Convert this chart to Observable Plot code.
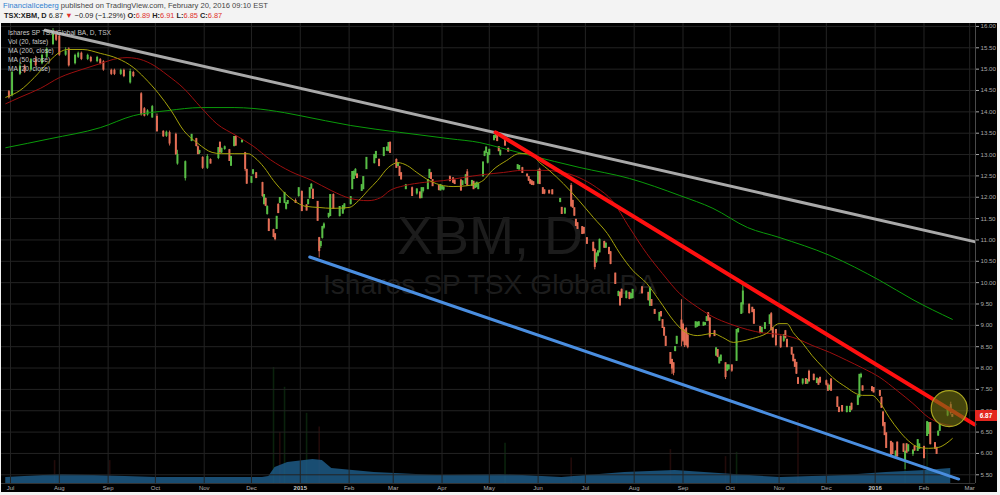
<!DOCTYPE html>
<html><head><meta charset="utf-8">
<script src="https://cdn.jsdelivr.net/npm/d3@7"></script>
<script src="https://cdn.jsdelivr.net/npm/@observablehq/plot@0.6"></script>
<style>
html,body{margin:0;padding:0;background:#f3f3f3;width:1000px;height:495px;overflow:hidden;font-family:"Liberation Sans",Arial,sans-serif;}
#hdr1{position:absolute;left:3px;top:1px;font-size:7.6px;color:#444;white-space:nowrap}
#hdr2{position:absolute;left:4px;top:11px;font-size:7.4px;color:#222;white-space:nowrap}
#panel{position:absolute;left:1px;top:23px;width:996px;height:469px;background:#000;overflow:hidden}
#panel svg{position:absolute;left:0;top:0}
.leg{position:absolute;left:7px;font-size:6.6px;color:#c8c8c8;white-space:nowrap}
#last{position:absolute;left:975px;width:22px;height:11px;background:#e3261f;color:#fff;font-size:6.4px;font-weight:bold;text-align:center;line-height:11px}
.red{color:#e0302a}
</style></head>
<body>
<div id="hdr1"></div>
<div id="hdr2"></div>
<div id="panel"></div>
<script>
// ---------- data ----------
const symbol = "XBM, D";
const fullName = "Ishares SP TSX Global BA";
const legendRows = ["Ishares SP TSX Global BA, D, TSX", "Vol (20, false)", "MA (200, close)", "MA (50, close)", "MA (20, close)"];
const author = "FinancialIceberg";
const published = " published on TradingView.com, February 20, 2016 09:10 EST";
const ticker = "TSX:XBM, D";

// date, open, high, low, close
const ohlc = [
["2014-06-30",14.45,14.5,14.3,14.35],["2014-07-02",14.4,14.95,14.35,14.9],["2014-07-07",14.9,15.15,14.85,15.05],
["2014-07-10",15.05,15.1,14.9,14.95],["2014-07-14",15.0,15.25,14.95,15.2],["2014-07-17",15.2,15.3,15.05,15.1],
["2014-07-21",15.15,15.35,15.1,15.3],["2014-07-24",15.3,15.5,15.25,15.45],["2014-07-28",15.6,15.95,15.55,15.85],
["2014-07-30",15.85,15.9,15.65,15.7],["2014-08-01",15.75,15.8,15.3,15.35],["2014-08-05",15.35,15.5,15.3,15.4],
["2014-08-07",15.45,15.5,15.05,15.1],["2014-08-11",15.15,15.35,15.1,15.3],["2014-08-13",15.3,15.4,15.25,15.35],
["2014-08-15",15.35,15.4,15.2,15.25],["2014-08-19",15.25,15.35,15.2,15.3],["2014-08-21",15.25,15.3,15.15,15.2],
["2014-08-25",15.2,15.3,15.15,15.25],["2014-08-27",15.2,15.25,15.1,15.15],["2014-08-29",15.15,15.2,14.95,15.0],
["2014-09-03",14.95,15.0,14.85,14.9],["2014-09-05",14.95,15.0,14.85,14.9],["2014-09-09",14.9,15.0,14.85,14.95],
["2014-09-11",14.95,15.0,14.8,14.85],["2014-09-15",14.7,15.0,14.65,14.92],["2014-09-17",14.9,14.95,14.8,14.85],
["2014-09-22",14.4,14.45,13.9,13.95],["2014-09-24",14.05,14.1,13.88,13.92],["2014-09-26",13.95,14.05,13.9,14.0],
["2014-09-29",13.88,14.15,13.85,14.1],["2014-10-02",13.87,13.95,13.52,13.56],["2014-10-06",13.52,13.56,13.4,13.44],
["2014-10-08",13.45,13.55,13.4,13.5],["2014-10-10",13.49,13.55,13.2,13.27],["2014-10-14",13.45,13.5,12.98,13.02],
["2014-10-15",12.8,13.1,12.75,12.98],["2014-10-20",12.46,12.85,12.38,12.81],["2014-10-24",13.33,13.47,13.3,13.45],
["2014-10-27",13.35,13.38,13.18,13.21],["2014-10-28",13.16,13.2,13.0,13.02],["2014-10-29",13.05,13.1,13.0,13.07],
["2014-10-31",12.91,12.95,12.65,12.7],["2014-11-03",12.7,13.0,12.65,12.93],["2014-11-05",12.86,12.9,12.78,12.8],
["2014-11-10",12.93,13.16,12.88,13.14],["2014-11-11",13.26,13.3,13.04,13.06],["2014-11-12",13.06,13.15,13.02,13.12],
["2014-11-14",13.14,13.2,13.1,13.16],["2014-11-17",13.09,13.12,12.84,12.86],["2014-11-18",12.75,12.96,12.72,12.93],
["2014-11-20",13.21,13.42,13.18,13.4],["2014-11-21",13.4,13.44,13.2,13.22],["2014-11-25",13.3,13.35,13.27,13.31],
["2014-11-27",13.02,13.05,12.6,12.67],["2014-11-28",12.63,12.65,12.3,12.33],["2014-12-01",12.35,12.48,12.32,12.46],
["2014-12-02",12.56,12.65,12.52,12.62],["2014-12-04",12.55,12.58,12.44,12.46],["2014-12-08",12.32,12.35,12.0,12.04],
["2014-12-09",11.85,12.06,11.82,12.04],["2014-12-10",11.95,11.98,11.78,11.81],["2014-12-11",11.62,11.8,11.58,11.76],
["2014-12-12",11.46,11.5,11.2,11.22],["2014-12-15",11.22,11.25,11.05,11.08],["2014-12-16",11.12,11.15,10.98,11.03],
["2014-12-17",11.27,11.55,11.25,11.53],["2014-12-18",11.81,11.85,11.62,11.64],["2014-12-19",11.88,11.99,11.85,11.97],
["2014-12-22",11.88,12.1,11.85,12.09],["2014-12-23",11.74,11.87,11.7,11.85],["2014-12-24",11.86,11.92,11.83,11.9],
["2014-12-29",11.9,11.96,11.86,11.88],["2014-12-31",12.04,12.22,12.0,12.2],
["2015-01-02",12.11,12.15,11.66,11.69],["2015-01-05",11.8,11.82,11.68,11.7],["2015-01-06",11.85,11.95,11.82,11.92],
["2015-01-07",11.99,12.22,11.96,12.2],["2015-01-08",12.22,12.32,12.18,12.28],["2015-01-09",12.16,12.2,11.95,11.97],
["2015-01-12",11.88,11.9,11.44,11.46],["2015-01-13",11.03,11.06,10.58,10.75],["2015-01-14",10.87,10.97,10.8,10.94],
["2015-01-15",11.06,11.32,11.02,11.29],["2015-01-16",11.3,11.4,11.25,11.35],["2015-01-19",11.55,11.62,11.5,11.6],
["2015-01-20",11.57,12.06,11.55,12.04],["2015-01-22",12.04,12.08,11.72,11.74],["2015-01-26",11.57,11.78,11.54,11.76],
["2015-01-28",11.63,11.8,11.6,11.78],["2015-01-29",11.75,11.85,11.7,11.82],["2015-02-02",11.85,12.01,11.82,11.99],
["2015-02-03",12.2,12.6,12.18,12.58],["2015-02-04",12.44,12.62,12.42,12.58],["2015-02-05",12.52,12.67,12.5,12.63],
["2015-02-06",12.52,12.55,12.44,12.46],["2015-02-09",12.16,12.3,12.14,12.27],["2015-02-10",12.2,12.48,12.18,12.46],
["2015-02-12",12.67,12.93,12.65,12.91],["2015-02-17",12.81,13.0,12.78,12.98],["2015-02-18",12.93,13.07,12.9,13.05],
["2015-02-20",12.86,12.9,12.72,12.74],["2015-02-23",12.98,13.16,12.95,13.14],["2015-02-25",13.1,13.18,13.08,13.15],
["2015-02-26",13.09,13.28,13.07,13.26],["2015-02-27",13.26,13.3,13.03,13.05],["2015-03-03",12.86,12.9,12.68,12.7],
["2015-03-04",12.74,12.8,12.72,12.78],["2015-03-05",12.7,12.72,12.5,12.51],["2015-03-06",12.55,12.58,12.4,12.43],
["2015-03-09",12.2,12.3,12.18,12.27],["2015-03-13",12.2,12.24,12.02,12.04],["2015-03-16",12.1,12.2,12.05,12.17],
["2015-03-18",12.1,12.12,11.96,11.99],["2015-03-19",11.99,12.22,11.97,12.2],["2015-03-20",12.16,12.22,12.1,12.2],
["2015-03-23",12.2,12.4,12.18,12.39],["2015-03-24",12.46,12.65,12.44,12.63],["2015-03-25",12.55,12.58,12.42,12.44],
["2015-03-26",12.39,12.4,12.26,12.27],["2015-03-30",12.25,12.27,12.15,12.18],["2015-03-31",12.17,12.3,12.15,12.27],
["2015-04-01",12.2,12.26,12.16,12.24],["2015-04-02",12.19,12.24,12.15,12.22],["2015-04-06",12.46,12.5,12.36,12.39],
["2015-04-08",12.43,12.46,12.33,12.35],["2015-04-09",12.38,12.4,12.3,12.32],["2015-04-13",12.38,12.42,12.14,12.17],
["2015-04-14",12.3,12.38,12.28,12.36],["2015-04-16",12.33,12.53,12.3,12.5],["2015-04-17",12.57,12.65,12.26,12.28],
["2015-04-20",12.28,12.39,12.25,12.37],["2015-04-21",12.35,12.37,12.18,12.2],["2015-04-22",12.23,12.33,12.2,12.3],
["2015-04-23",12.25,12.34,12.22,12.33],["2015-04-24",12.2,12.33,12.18,12.3],["2015-04-27",12.5,12.83,12.48,12.8],
["2015-04-28",12.98,13.08,12.95,13.05],["2015-04-29",13.05,13.18,13.02,13.15],["2015-04-30",12.82,13.05,12.78,13.02],
["2015-05-01",13.0,13.12,12.98,13.1],["2015-05-04",13.35,13.45,13.32,13.42],["2015-05-05",13.4,13.53,13.38,13.5],
["2015-05-06",13.5,13.52,13.3,13.33],["2015-05-07",13.16,13.18,13.07,13.09],["2015-05-08",13.0,13.1,12.96,13.08],
["2015-05-11",13.37,13.4,13.2,13.22],["2015-05-13",13.12,13.15,13.06,13.08],["2015-05-19",12.67,12.76,12.65,12.74],
["2015-05-20",12.66,12.74,12.64,12.72],["2015-05-22",12.67,12.7,12.56,12.58],["2015-05-25",12.52,12.54,12.48,12.5],
["2015-05-26",12.46,12.48,12.37,12.4],["2015-05-27",12.39,12.41,12.3,12.33],["2015-05-28",12.36,12.38,12.28,12.3],
["2015-05-29",12.34,12.36,12.27,12.3],["2015-06-01",12.33,12.65,12.3,12.6],["2015-06-02",12.63,12.68,12.3,12.32],
["2015-06-04",12.2,12.22,12.07,12.09],["2015-06-05",12.15,12.17,12.06,12.1],["2015-06-08",12.14,12.16,12.08,12.1],
["2015-06-10",12.15,12.18,12.06,12.08],["2015-06-15",11.9,11.97,11.87,11.95],["2015-06-16",11.74,11.76,11.6,11.62],
["2015-06-18",11.63,11.75,11.6,11.72],["2015-06-22",12.25,12.32,11.76,11.8],["2015-06-23",11.9,11.93,11.74,11.77],
["2015-06-24",11.73,11.75,11.55,11.58],["2015-06-25",11.46,11.48,11.32,11.34],["2015-06-26",11.38,11.4,11.25,11.27],
["2015-06-29",11.29,11.3,11.13,11.15],["2015-06-30",11.27,11.29,11.14,11.16],["2015-07-02",11.03,11.05,10.9,10.92],
["2015-07-06",10.92,10.95,10.73,10.75],["2015-07-07",10.75,10.8,10.3,10.38],["2015-07-08",10.5,10.7,10.45,10.66],
["2015-07-09",10.64,10.75,10.6,10.72],["2015-07-10",10.72,11.02,10.7,10.99],["2015-07-13",10.94,10.97,10.8,10.83],
["2015-07-14",10.83,10.93,10.8,10.9],["2015-07-16",10.8,10.83,10.66,10.68],["2015-07-17",10.7,10.73,10.42,10.45],
["2015-07-20",10.2,10.22,9.96,9.98],["2015-07-22",9.7,9.8,9.67,9.77],["2015-07-23",9.75,9.78,9.45,9.48],
["2015-07-24",9.82,9.85,9.63,9.66],["2015-07-27",9.65,9.8,9.62,9.78],["2015-07-29",9.75,9.77,9.6,9.63],
["2015-07-30",9.64,9.74,9.62,9.72],["2015-07-31",9.65,9.84,9.62,9.82],["2015-08-06",9.88,9.9,9.74,9.76],
["2015-08-10",9.75,9.77,9.57,9.6],["2015-08-11",9.47,9.88,9.45,9.85],["2015-08-12",9.58,9.6,9.45,9.47],
["2015-08-14",9.35,9.37,9.26,9.28],["2015-08-17",9.12,9.3,9.1,9.28],["2015-08-18",9.3,9.32,9.2,9.22],
["2015-08-19",9.11,9.13,8.93,8.95],["2015-08-20",8.93,8.95,8.74,8.77],["2015-08-21",8.72,8.74,8.51,8.53],
["2015-08-24",8.34,8.36,8.09,8.11],["2015-08-25",8.18,8.2,7.85,8.0],["2015-08-26",8.1,8.12,7.82,7.9],
["2015-08-27",8.41,8.5,8.38,8.48],["2015-08-28",8.58,8.74,8.55,8.72],["2015-08-31",9.1,9.6,8.5,8.93],
["2015-09-01",9.0,9.05,8.6,8.65],["2015-09-02",8.85,8.9,8.48,8.55],["2015-09-03",8.9,8.95,8.5,8.55],
["2015-09-04",8.75,8.8,8.45,8.5],["2015-09-09",8.96,9.08,8.94,9.06],["2015-09-10",8.98,9.07,8.96,9.05],
["2015-09-11",9.0,9.08,8.98,9.06],["2015-09-14",9.0,9.07,8.98,9.05],["2015-09-15",9.02,9.06,8.99,9.04],
["2015-09-16",9.11,9.2,9.09,9.18],["2015-09-17",9.27,9.3,9.1,9.12],["2015-09-18",9.15,9.17,8.7,8.75],
["2015-09-21",8.85,8.88,8.74,8.76],["2015-09-22",8.3,8.47,8.28,8.45],["2015-09-23",8.41,8.43,8.24,8.27],
["2015-09-24",8.12,8.25,8.1,8.23],["2015-09-25",8.18,8.3,8.15,8.28],["2015-09-28",8.1,8.12,7.73,7.8],
["2015-09-29",7.95,8.07,7.92,8.05],["2015-09-30",7.98,8.07,7.96,8.05],["2015-10-02",8.05,8.07,7.9,7.95],
["2015-10-05",8.18,8.9,8.16,8.88],["2015-10-06",8.85,8.92,8.82,8.9],["2015-10-08",9.28,9.53,9.26,9.5],
["2015-10-09",9.5,9.95,9.28,9.78],["2015-10-13",9.47,9.5,9.26,9.3],["2015-10-15",9.4,9.42,9.3,9.32],
["2015-10-16",9.35,9.37,9.02,9.05],["2015-10-20",8.95,8.97,8.8,8.83],["2015-10-21",8.84,8.95,8.82,8.93],
["2015-10-23",8.93,9.06,8.9,9.04],["2015-10-26",9.04,9.24,9.02,9.22],["2015-10-27",9.25,9.3,8.87,8.9],
["2015-10-28",8.92,8.95,8.7,8.73],["2015-10-30",8.88,8.9,8.5,8.55],["2015-11-02",8.72,8.75,8.46,8.5],
["2015-11-04",8.65,8.78,8.6,8.76],["2015-11-05",8.85,8.88,8.68,8.72],["2015-11-06",8.65,8.67,8.48,8.5],
["2015-11-09",8.46,8.48,8.3,8.33],["2015-11-10",8.3,8.32,8.15,8.17],["2015-11-11",8.18,8.2,8.02,8.04],
["2015-11-12",8.11,8.13,7.85,7.88],["2015-11-13",7.75,7.78,7.62,7.64],["2015-11-16",7.65,7.74,7.6,7.72],
["2015-11-18",7.73,7.75,7.62,7.64],["2015-11-19",7.65,7.73,7.62,7.71],["2015-11-20",7.9,7.95,7.67,7.7],
["2015-11-23",7.83,7.86,7.7,7.73],["2015-11-25",7.66,7.76,7.64,7.74],["2015-11-26",7.72,7.74,7.6,7.62],
["2015-11-27",7.76,7.78,7.65,7.67],["2015-12-01",7.68,7.72,7.58,7.62],["2015-12-02",7.58,7.64,7.45,7.48],
["2015-12-03",7.5,7.6,7.47,7.57],["2015-12-04",7.72,7.75,7.45,7.48],["2015-12-08",7.3,7.32,7.08,7.1],
["2015-12-09",7.06,7.08,6.97,6.98],["2015-12-11",7.1,7.12,6.96,7.0],["2015-12-14",6.98,7.1,6.95,7.08],
["2015-12-16",6.98,7.1,6.96,7.08],["2015-12-17",7.15,7.18,7.0,7.04],["2015-12-21",7.15,7.35,7.12,7.33],
["2015-12-22",7.33,7.85,7.3,7.83],["2015-12-23",7.8,7.88,7.75,7.83],["2015-12-24",7.56,7.58,7.46,7.48],
["2015-12-30",7.54,7.56,7.45,7.47],["2015-12-31",7.52,7.54,7.42,7.44],["2016-01-04",7.45,7.47,7.34,7.36],
["2016-01-05",7.29,7.32,7.06,7.08],["2016-01-06",6.95,6.97,6.62,6.66],["2016-01-07",6.7,6.72,6.42,6.44],
["2016-01-08",6.46,6.48,6.12,6.14],["2016-01-11",6.26,6.28,5.93,5.96],["2016-01-12",6.22,6.25,5.97,6.0],
["2016-01-14",5.91,6.06,5.88,6.03],["2016-01-15",6.24,6.27,5.92,5.94],["2016-01-19",6.2,6.22,6.02,6.05],
["2016-01-20",5.85,6.04,5.62,6.03],["2016-01-21",6.2,6.23,6.0,6.03],["2016-01-22",6.06,6.2,6.04,6.18],
["2016-01-25",6.0,6.07,5.93,6.06],["2016-01-26",6.15,6.18,6.05,6.08],["2016-01-28",6.07,6.32,6.05,6.3],
["2016-01-29",6.12,6.22,6.1,6.2],["2016-02-01",6.14,6.17,5.88,5.9],["2016-02-03",6.42,6.75,6.4,6.72],
["2016-02-04",6.47,6.72,6.45,6.7],["2016-02-05",6.7,6.72,6.2,6.23],["2016-02-08",6.23,6.25,6.1,6.12],
["2016-02-09",6.12,6.14,5.98,6.0],["2016-02-10",6.43,6.52,6.4,6.5],["2016-02-11",6.54,6.68,6.52,6.66],
["2016-02-16",6.9,7.08,6.86,7.06],["2016-02-18",7.12,7.2,6.9,6.96],["2016-02-19",6.89,6.91,6.85,6.87]
];

const ma20 = [["2014-06-28",14.34],["2014-07-07",14.5],["2014-07-16",14.8],["2014-07-26",15.2],["2014-08-01",15.39],["2014-08-06",15.46],["2014-08-16",15.46],["2014-08-27",15.37],["2014-09-07",15.25],["2014-09-17",15.04],["2014-09-24",14.8],["2014-10-03",14.43],["2014-10-11",14.03],["2014-10-19",13.56],["2014-10-28",13.26],["2014-11-06",13.05],["2014-11-12",13.02],["2014-11-20",13.02],["2014-11-29",13.02],["2014-12-03",12.93],["2014-12-09",12.7],["2014-12-15",12.39],["2014-12-22",12.1],["2014-12-28",11.92],["2015-01-04",11.79],["2015-01-13",11.76],["2015-01-21",11.74],["2015-02-01",11.76],["2015-02-07",11.92],["2015-02-13",12.16],["2015-02-19",12.39],["2015-02-26",12.7],["2015-03-04",12.81],["2015-03-10",12.74],["2015-03-16",12.58],["2015-03-24",12.39],["2015-04-02",12.27],["2015-04-08",12.25],["2015-04-17",12.27],["2015-04-23",12.32],["2015-04-27",12.39],["2015-05-03",12.63],["2015-05-12",12.86],["2015-05-20",13.02],["2015-05-27",13.02],["2015-06-02",12.81],["2015-06-08",12.63],["2015-06-17",12.32],["2015-06-27",11.92],["2015-07-06",11.53],["2015-07-15",11.15],["2015-07-23",10.68],["2015-07-31",10.29],["2015-08-09",9.98],["2015-08-17",9.58],["2015-08-26",9.11],["2015-09-01",8.88],["2015-09-10",8.76],["2015-09-20",8.81],["2015-09-26",8.72],["2015-10-03",8.6],["2015-10-07",8.62],["2015-10-15",8.69],["2015-10-24",8.81],["2015-11-01",9.04],["2015-11-06",9.04],["2015-11-10",8.83],["2015-11-16",8.58],["2015-11-22",8.29],["2015-11-29",8.01],["2015-12-05",7.78],["2015-12-14",7.54],["2015-12-20",7.4],["2015-12-24",7.36],["2015-12-30",7.36],["2016-01-04",7.19],["2016-01-10",6.84],["2016-01-16",6.54],["2016-01-22",6.3],["2016-01-29",6.14],["2016-02-04",6.12],["2016-02-10",6.14],["2016-02-15",6.23],["2016-02-19",6.35]];

const ma50 = [["2014-06-28",14.19],["2014-07-07",14.34],["2014-07-20",14.55],["2014-08-01",14.8],["2014-08-16",15.0],["2014-08-27",15.13],["2014-09-07",15.25],["2014-09-13",15.27],["2014-09-19",15.25],["2014-09-28",15.13],["2014-10-09",14.85],["2014-10-19",14.55],["2014-10-30",14.1],["2014-11-09",13.72],["2014-11-21",13.45],["2014-12-02",13.2],["2014-12-13",12.88],["2014-12-26",12.6],["2015-01-08",12.4],["2015-01-21",12.15],["2015-02-02",11.97],["2015-02-13",11.92],["2015-02-21",11.99],["2015-02-27",12.16],["2015-03-08",12.27],["2015-03-21",12.35],["2015-04-02",12.39],["2015-04-14",12.46],["2015-04-27",12.53],["2015-05-10",12.58],["2015-05-22",12.63],["2015-06-04",12.63],["2015-06-17",12.58],["2015-06-27",12.46],["2015-07-08",12.23],["2015-07-18",11.92],["2015-07-29",11.29],["2015-08-09",10.68],["2015-08-19",10.21],["2015-08-30",9.74],["2015-09-10",9.43],["2015-09-20",9.2],["2015-10-01",9.03],["2015-10-12",8.9],["2015-10-22",8.82],["2015-11-01",8.79],["2015-11-12",8.69],["2015-11-22",8.53],["2015-12-03",8.37],["2015-12-14",8.18],["2015-12-24",8.0],["2016-01-04",7.78],["2016-01-15",7.47],["2016-01-25",7.17],["2016-02-04",6.84],["2016-02-12",6.7],["2016-02-19",6.65]];

const ma200 = [["2014-06-28",13.16],["2014-07-26",13.37],["2014-08-27",13.63],["2014-09-17",13.91],["2014-10-09",14.03],["2014-10-30",14.1],["2014-11-20",14.1],["2014-12-02",14.08],["2014-12-22",13.98],["2015-01-01",13.91],["2015-02-02",13.68],["2015-03-05",13.52],["2015-04-06",13.37],["2015-04-25",13.28],["2015-05-08",13.16],["2015-05-27",12.98],["2015-06-27",12.7],["2015-07-29",12.44],["2015-08-30",12.04],["2015-09-20",11.74],["2015-10-12",11.29],["2015-11-01",11.06],["2015-12-03",10.64],["2016-01-04",10.05],["2016-01-25",9.6],["2016-02-19",9.14]];

// volume, thousands of shares
const volumeMA = [["2014-06-28",21],["2014-08-03",32],["2014-08-23",28],["2014-10-02",21],["2014-11-11",21],["2014-12-08",21],["2014-12-12",25],["2014-12-16",57],["2014-12-24",74],["2015-01-09",85],["2015-01-15",81],["2015-01-21",53],["2015-02-17",39],["2015-03-29",28],["2015-05-08",32],["2015-06-16",21],["2015-07-26",39],["2015-08-27",46],["2015-09-24",35],["2015-11-02",21],["2015-12-12",28],["2016-01-08",39],["2016-02-02",46],["2016-02-18",53]];
const volumeBars = [["2014-07-29",81,"down"],["2014-09-02",81,"down"],["2014-12-15",410,"up"],["2014-12-19",180,"down"],["2014-12-22",340,"up"],["2015-01-05",248,"up"],["2015-01-13",200,"down"],["2015-05-11",142,"up"],["2015-06-22",90,"down"],["2015-08-24",120,"down"],["2015-09-28",95,"down"],["2015-10-05",110,"up"],["2015-11-13",223,"down"],["2016-01-20",142,"up"],["2016-02-03",120,"up"]];

// trend lines drawn on the chart (date, price)
const resistanceLong = [["2014-07-23",15.91],["2016-03-04",10.96]];
const resistanceShort = [["2015-05-05",13.52],["2016-03-04",6.68]];
const supportLine = [["2015-01-07",10.6],["2016-02-23",5.4]];
const highlight = [["2016-02-17",7.05]];

const priceTicks = [5.5,6,6.5,7,7.5,8,8.5,9,9.5,10,10.5,11,11.5,12,12.5,13,13.5,14,14.5,15,15.5,16];
const monthTicks = ["2014-07-01","2014-08-01","2014-09-01","2014-10-01","2014-11-01","2014-12-01","2015-01-01","2015-02-01","2015-03-01","2015-04-01","2015-05-01","2015-06-01","2015-07-01","2015-08-01","2015-09-01","2015-10-01","2015-11-01","2015-12-01","2016-01-01","2016-02-01","2016-03-01"];
const xDomain = ["2014-06-25T07:00Z","2016-03-04T17:00Z"];
const yDomain = [5.296, 16.069];

// ---------- build ----------
const P = s => new Date(s.length === 10 ? s + "T00:00Z" : s);
const candles = ohlc.map(([d,o,h,l,c]) => ({date:P(d), open:o, high:h, low:l, close:c}));
const pts = arr => arr.map(([d,v]) => ({date:P(d), value:v}));
const up = "#58bd46", down = "#e46e56";
const col = d => d.close >= d.open ? up : down;
const months = monthTicks.map(P);
const W = 996, H = 469;
const font = "Liberation Sans, Arial, sans-serif";

const volPlot = Plot.plot({
  width: W, height: H, marginLeft: 0, marginRight: 22, marginTop: 0, marginBottom: 9,
  style: {background: "transparent"},
  x: {type: "utc", domain: xDomain.map(P), axis: null},
  y: {domain: [0, 1626], axis: null},
  marks: [
    Plot.ruleX(volumeBars.map(([d,v,k]) => ({date:P(d), vol:v, k})), {x:"date", y1:0, y2:"vol", stroke: d => d.k === "up" ? "#1f6a24" : "#6a2320", strokeOpacity: 0.32, strokeWidth: 1.6}),
    Plot.areaY(volumeMA.map(([d,v]) => ({date:P(d), vol:v})), {x:"date", y:"vol", fill:"#1d5a86", fillOpacity: 0.85})
  ]
});

const main = Plot.plot({
  width: W, height: H, marginLeft: 0, marginRight: 22, marginTop: 0, marginBottom: 9,
  style: {background: "transparent", color: "#a8a8a8", fontFamily: font},
  x: {type: "utc", domain: xDomain.map(P)},
  y: {domain: yDomain},
  marks: [
    Plot.gridY(priceTicks, {stroke: "#232323", strokeOpacity: 1}),
    Plot.gridX(months, {stroke: "#232323", strokeOpacity: 1}),
    Plot.text([symbol], {frameAnchor: "middle", dx: 1.5, dy: -17, fontSize: 54, fill: "#1c1c1c", fontFamily: font}),
    Plot.text([fullName], {frameAnchor: "middle", dx: 1.5, dy: 31, fontSize: 28.2, fill: "#1c1c1c", fontFamily: font}),
    Plot.ruleX(candles, {x: "date", y1: "low", y2: "high", stroke: col, strokeWidth: 0.9}),
    Plot.ruleX(candles, {x: "date", y1: "open", y2: "close", stroke: col, strokeWidth: 2, strokeLinecap: "square"}),
    Plot.line(pts(ma200), {x: "date", y: "value", stroke: "#0a9a0a", strokeWidth: 1, curve: "monotone-x"}),
    Plot.line(pts(ma50), {x: "date", y: "value", stroke: "#9c0f0f", strokeWidth: 1, curve: "monotone-x"}),
    Plot.line(pts(ma20), {x: "date", y: "value", stroke: "#a5a20a", strokeWidth: 1, curve: "monotone-x"}),
    Plot.line(pts(resistanceLong), {x: "date", y: "value", stroke: "#a9a9a9", strokeWidth: 3}),
    Plot.line(pts(supportLine), {x: "date", y: "value", stroke: "#4a8ee0", strokeWidth: 3}),
    Plot.line(pts(resistanceShort), {x: "date", y: "value", stroke: "#ff1010", strokeWidth: 4}),
    Plot.dot(pts(highlight), {x: "date", y: "value", r: 18, fill: "#707014", fillOpacity: 0.62, stroke: "#a8a420", strokeWidth: 1.2}),
    Plot.ruleX([P(xDomain[1])], {stroke: "#4a4a4a"}),
    Plot.ruleY([yDomain[0]], {stroke: "#333"}),
    Plot.axisY(priceTicks, {anchor: "right", tickSize: 3, tickPadding: 2, tickFormat: d => d.toFixed(2), fontSize: 6.2, color: "#a8a8a8"}),
    Plot.axisX(months.filter(d => d.getUTCMonth() !== 0), {anchor: "bottom", tickSize: 0, tickPadding: 2, tickFormat: d3.utcFormat("%b"), fontSize: 6, color: "#b0b0b0"}),
    Plot.axisX(months.filter(d => d.getUTCMonth() === 0), {anchor: "bottom", tickSize: 0, tickPadding: 2, tickFormat: d3.utcFormat("%Y"), fontSize: 6, fontWeight: "bold", color: "#c8c8c8"})
  ]
});

const panel = document.getElementById("panel");
panel.appendChild(volPlot);
panel.appendChild(main);

legendRows.forEach((t, i) => {
  const el = document.createElement("div");
  el.className = "leg"; el.textContent = t; el.style.top = (6 + i * 9) + "px";
  panel.appendChild(el);
});

const last = candles[candles.length - 1], prev = candles[candles.length - 2];
const chg = last.close - prev.close, pct = chg / prev.close * 100;
const lab = document.createElement("div");
lab.id = "last"; lab.textContent = last.close.toFixed(2);
lab.style.left = "974px";
lab.style.top = (main.scale("y").apply(last.close) - 5.5) + "px";
panel.appendChild(lab);

const f2 = v => v.toFixed(2);
const m = v => (v < 0 ? "\u2212" : "") + Math.abs(v).toFixed(2);
document.getElementById("hdr1").innerHTML = `<span style="color:#2f7fd0">${author}</span>${published}`;
document.getElementById("hdr2").innerHTML = `<b>${ticker}</b> ${f2(last.close)} <span class="red">${chg < 0 ? "\u25BC" : "\u25B2"}</span> ${m(chg)} (${m(pct)}%) <b>O:</b><span class="red">${f2(last.open)}</span> <b>H:</b><span class="red">${f2(last.high)}</span> <b>L:</b><span class="red">${f2(last.low)}</span> <b>C:</b><span class="red">${f2(last.close)}</span>`;
</script>
</body></html>
